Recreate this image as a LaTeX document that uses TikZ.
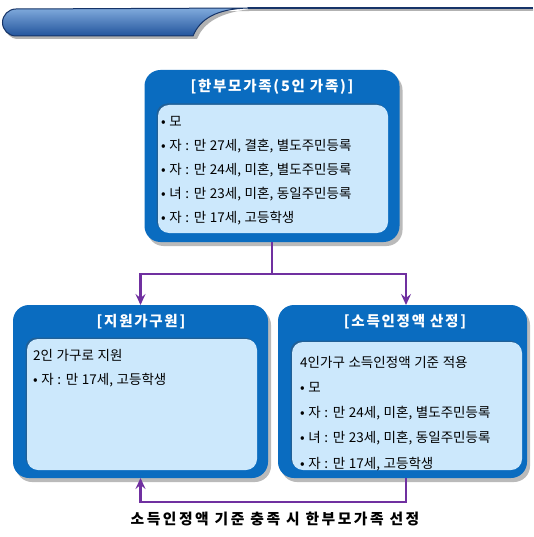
\documentclass[tikz,border=0pt]{standalone}
\usepackage{fontspec}
\setmainfont{Noto Sans CJK KR}
\newfontfamily\listfont[WordSpace=1.2]{Noto Sans CJK KR}
\usetikzlibrary{arrows.meta,shadows,positioning}
\definecolor{boxblue}{RGB}{10,108,192}
\definecolor{paleblue}{RGB}{204,232,252}
\definecolor{flowpurple}{RGB}{112,48,160}
\definecolor{barnavy}{RGB}{22,52,104}
\definecolor{barlight}{RGB}{128,170,220}
\definecolor{bardark}{RGB}{34,84,156}

\begin{document}
\begin{tikzpicture}[x=1pt,y=-1pt,
	outerbox/.style={fill=boxblue, rounded corners=16pt, inner sep=0pt, outer sep=0pt,
		drop shadow={shadow xshift=3pt, shadow yshift=-4pt, fill=black!60, opacity=.45}},
	innerbox/.style={fill=paleblue, rounded corners=11pt, inner sep=0pt, outer sep=0pt,
		drop shadow={shadow xshift=-1.5pt, shadow yshift=1.5pt, fill=black!70, opacity=.35}},
	boxtitle/.style={text=white, inner sep=0pt, font=\fontsize{14.5}{16}\selectfont\bfseries\addfontfeature{LetterSpace=12}},
	itemlist/.style={align=left, anchor=north west, inner sep=0pt, font=\listfont\fontsize{13.5}{24}\selectfont},
	flow/.style={draw=flowpurple, line width=2.4pt, -{Stealth[length=11pt,width=10pt,inset=4pt]}}]
	\useasboundingbox (0,0) rectangle (533,537);
	\fill[white] (0,0) rectangle (533,537);

	%header bar
	\fill[black!30] (18,12) -- (250,11) -- (533,11) -- (533,9) -- (250,9) .. controls (220,13) and (204,22) .. (197,39) -- (18,39)
		arc[start angle=90, end angle=270, radius=13.5] -- cycle;
	\shade[top color=barlight, bottom color=bardark, draw=barnavy, line width=1pt]
		(16,9) -- (248,8) .. controls (216,9) and (200,19) .. (193,36) -- (16,36)
		arc[start angle=90, end angle=270, radius=13.5] -- cycle;
	\draw[barnavy, line width=1.6pt] (248,8) -- (533,8);

	%boxes
	\node[outerbox, minimum width=255pt, minimum height=172pt] (family) at (272,156) {};
	\node[innerbox, minimum width=230pt, minimum height=128pt] (familyin) at (273,169) {};
	\node[outerbox, minimum width=255pt, minimum height=173pt] (support) at (140.5,391.5) {};
	\node[innerbox, minimum width=230pt, minimum height=131pt] (supportin) at (142,404.5) {};
	\node[outerbox, minimum width=249pt, minimum height=173pt] (income) at (402.5,391.5) {};
	\node[innerbox, minimum width=230pt, minimum height=128pt] (incomein) at (407,406) {};

	%titles
	\node[boxtitle] (familytitle) at (272,87) {[한부모가족(5인 가족)]};
	\node[boxtitle] (supporttitle) at (141,322) {[지원가구원]};
	\node[boxtitle] (incometitle) at (405,322) {[소득인정액 산정]};

	%lists (top edge = first baseline - 11)
	\node[itemlist] (familylist) at (161,115.5) {\rule{0pt}{11pt}• 모\\• 자 : 만 27세, 결혼, 별도주민등록\\• 자 : 만 24세, 미혼, 별도주민등록\\• 녀 : 만 23세, 미혼, 동일주민등록\\• 자 : 만 17세, 고등학생};
	\node[itemlist, font=\listfont\fontsize{13.5}{23.5}\selectfont] (supportlist) at (33,349.5) {\rule{0pt}{11pt}2인 가구로 지원\\• 자 : 만 17세, 고등학생};
	\node[itemlist, font=\listfont\fontsize{13.5}{25.2}\selectfont] (incomelist) at (300,356) {\rule{0pt}{11pt}4인가구 소득인정액 기준 적용\\• 모\\• 자 : 만 24세, 미혼, 별도주민등록\\• 녀 : 만 23세, 미혼, 동일주민등록\\• 자 : 만 17세, 고등학생};

	%connectors
	\coordinate (split) at (272,274);
	\draw[flowpurple, line width=2.4pt] (family.south) -- (split);
	\draw[flow] (split) -| (support.north);
	\draw[flow] (split) -| ([xshift=3.5pt]income.north);
	\draw[flow] ([xshift=3.5pt]income.south) -- ++(0,24) -| (support.south);

	\node[font=\fontsize{14.8}{16}\selectfont\bfseries\addfontfeature{LetterSpace=17}] (rule) at (275,519) {소득인정액 기준 충족 시 한부모가족 선정};
\end{tikzpicture}
\end{document}
